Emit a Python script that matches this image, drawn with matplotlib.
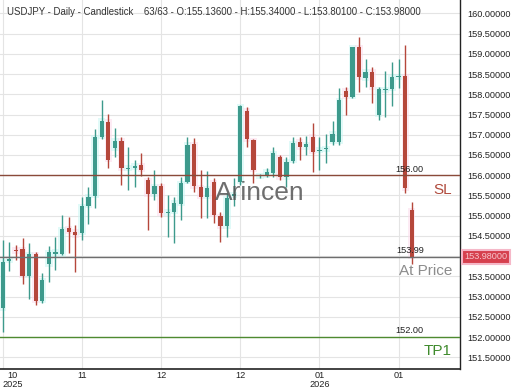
import numpy as np
import matplotlib
matplotlib.use('Agg')
import matplotlib.pyplot as plt
import matplotlib.transforms as mtransforms

plt.rcParams['font.family'] = ['Liberation Sans', 'DejaVu Sans']

# daily USDJPY candles, 63 sessions
opens = [152.71, 153.88, 154.16, 154.17, 153.51, 154.05, 152.90, 153.80, 154.06, 154.05,
         154.69, 154.60, 154.58, 155.24, 155.49, 156.95, 157.32, 156.66, 156.85, 156.16,
         156.18, 156.24, 155.88, 155.53, 155.73, 155.06, 155.10, 155.29, 155.84, 156.77,
         155.70, 155.47, 155.82, 154.99, 154.74, 155.49, 155.84, 157.59, 156.87, 155.97,
         156.00, 156.06, 156.44, 155.95, 156.36, 156.83, 156.69, 156.95, 156.60, 156.64,
         156.83, 156.83, 158.09, 157.94, 159.16, 158.39, 158.56, 157.49, 158.10, 158.13,
         158.42, 158.45, 155.136]
highs = [154.40, 154.35, 154.27, 154.44, 154.32, 154.10, 153.58, 154.25, 154.48, 155.01,
         154.97, 154.77, 155.47, 155.70, 157.13, 157.87, 157.51, 157.16, 156.95, 156.70,
         156.37, 156.54, 155.96, 156.13, 155.80, 155.51, 155.47, 155.96, 156.94, 156.91,
         156.13, 156.10, 155.92, 155.10, 155.55, 155.92, 157.73, 157.68, 156.89, 156.02,
         156.17, 156.69, 156.50, 156.46, 156.95, 156.95, 156.97, 157.30, 156.95, 157.02,
         157.34, 158.15, 158.17, 159.18, 159.42, 158.86, 158.68, 158.19, 158.58, 158.80,
         158.88, 159.22, 155.34]
lows = [152.13, 153.62, 153.90, 153.31, 152.93, 152.78, 152.83, 153.37, 153.65, 154.02,
        154.08, 153.60, 154.40, 154.80, 155.18, 156.90, 156.17, 156.46, 155.76, 155.63,
        155.70, 155.98, 154.65, 155.39, 154.97, 154.48, 154.33, 154.89, 155.80, 155.59,
        154.93, 154.95, 154.81, 154.36, 154.48, 155.24, 155.76, 156.70, 155.80, 155.94,
        155.95, 155.95, 155.88, 155.72, 156.29, 156.37, 156.50, 156.09, 156.13, 156.29,
        156.75, 156.75, 157.49, 157.90, 158.06, 158.19, 157.78, 157.37, 157.43, 157.71,
        158.15, 155.57, 153.801]
closes = [153.86, 153.92, 154.12, 153.51, 154.05, 152.90, 153.40, 154.10, 154.11, 154.66,
          154.60, 154.52, 155.24, 155.47, 156.94, 157.35, 156.38, 156.85, 156.17, 156.18,
          156.23, 156.13, 155.53, 155.73, 155.06, 155.10, 155.32, 155.80, 156.75, 155.73,
          155.47, 155.68, 155.02, 154.74, 155.43, 155.53, 157.71, 156.89, 156.13, 155.99,
          156.09, 156.54, 155.95, 156.33, 156.79, 156.69, 156.76, 156.58, 156.63, 156.66,
          157.03, 157.86, 157.94, 159.16, 158.42, 158.56, 158.17, 158.12, 158.13, 158.43,
          158.44, 155.68, 153.98]

tick_idx = [0, 12, 24, 36, 48, 60]
tick_labels = ['10\n2025', '11', '12', '12', '01\n2026', '01']

sl_level = 156.00
at_price = 153.98
tp1_level = 152.00

up_col = '#3d9a8c'
down_col = '#b5473b'

fig = plt.figure(figsize=(5.2, 3.9), dpi=100)
ax = fig.add_axes([0, 21 / 390, 460 / 520, 369 / 390])

n = len(opens)
x = np.arange(n)
o = np.array(opens)
h = np.array(highs)
l = np.array(lows)
c = np.array(closes)
up = c >= o
cols = np.where(up, up_col, down_col)
halo = np.where(up, '#c9f7f4', '#fcdcec')

body_lo = np.minimum(o, c)
body_hi = np.maximum(o, c)
ax.bar(x, body_hi - body_lo + 0.12, bottom=body_lo - 0.06, width=1.1, color=halo,
       alpha=0.55, zorder=1, linewidth=0)
ax.vlines(x, l, h, colors=cols, linewidth=1.0, zorder=2)
ax.bar(x, np.maximum(body_hi - body_lo, 0.025), bottom=body_lo, width=0.65, color=cols,
       zorder=3, linewidth=0)

# levels
ax.axhline(sl_level, color='#8a4a3a', linewidth=1.0, zorder=4)
ax.axhline(at_price, color='#6e6e6e', linewidth=1.0, zorder=4)
ax.axhline(tp1_level, color='#4e8a30', linewidth=1.0, zorder=4)
ax.text(63.8, sl_level + 0.04, '%.2f' % sl_level, ha='right', va='bottom', fontsize=6.6, color='#222222', zorder=5)
ax.text(63.8, at_price + 0.04, '%.2f' % 153.99, ha='right', va='bottom', fontsize=6.6, color='#222222', zorder=5)
ax.text(63.8, tp1_level + 0.04, '%.2f' % tp1_level, ha='right', va='bottom', fontsize=6.6, color='#222222', zorder=5)
ax.text(68.1, 155.63, 'SL', ha='right', va='center', fontsize=11, color='#b04a3c', zorder=5)
ax.text(68.1, 153.63, 'At Price', ha='right', va='center', fontsize=11, color='#8c8c8c', zorder=5)
ax.text(68.1, 151.65, 'TP1', ha='right', va='center', fontsize=11, color='#3f8a2c', zorder=5)

# watermark
ax.text(39, 155.56, 'Arincen', ha='center', va='center', fontsize=19, color='#555555', alpha=0.85, zorder=6)

ax.text(0.016, 0.967, 'USDJPY - Daily - Candlestick    63/63 - O:155.13600 - H:155.34000 - L:153.80100 - C:153.98000',
        transform=ax.transAxes, ha='left', va='center', fontsize=6.9, color='#333333', zorder=6)

ax.set_xlim(-0.41, 69.3)
ax.set_ylim(151.21, 160.33)

yt = np.arange(151.5, 160.01, 0.5)
ax.set_yticks(yt)
ax.set_yticklabels(['' if abs(v - 154.0) < 1e-6 else '%.5f' % v for v in yt])
ax.yaxis.tick_right()
ax.tick_params(axis='y', length=0, pad=5, labelsize=6.6, labelcolor='#222222')
ax.set_xticks(tick_idx)
ax.set_xticklabels(tick_labels)
ax.tick_params(axis='x', length=0, pad=1.5, labelsize=6.6, labelcolor='#222222')
for lab in ax.get_xticklabels():
    lab.set_linespacing(0.95)
ax.get_xticklabels()[0].set_horizontalalignment('left')
ax.get_xticklabels()[0].set_multialignment('center')

trans = mtransforms.blended_transform_factory(ax.transAxes, ax.transData)
ax.text(1.01, at_price, '153.98000', transform=trans, ha='left', va='center', fontsize=6.6,
        color='#f7c6cc', clip_on=False, zorder=7,
        bbox=dict(boxstyle='square,pad=0.25', facecolor='#d6404e', edgecolor='#f5b8c8', linewidth=1.5))

ax.grid(True, color='#e4e4e4', linewidth=0.8, zorder=0)
ax.set_axisbelow(True)
for s in ['left', 'top']:
    ax.spines[s].set_visible(False)
ax.spines['right'].set_color('#222222')
ax.spines['bottom'].set_color('#222222')
ax.spines['right'].set_linewidth(1.0)
ax.spines['bottom'].set_linewidth(1.2)

fig.savefig('out.png', dpi=100)
